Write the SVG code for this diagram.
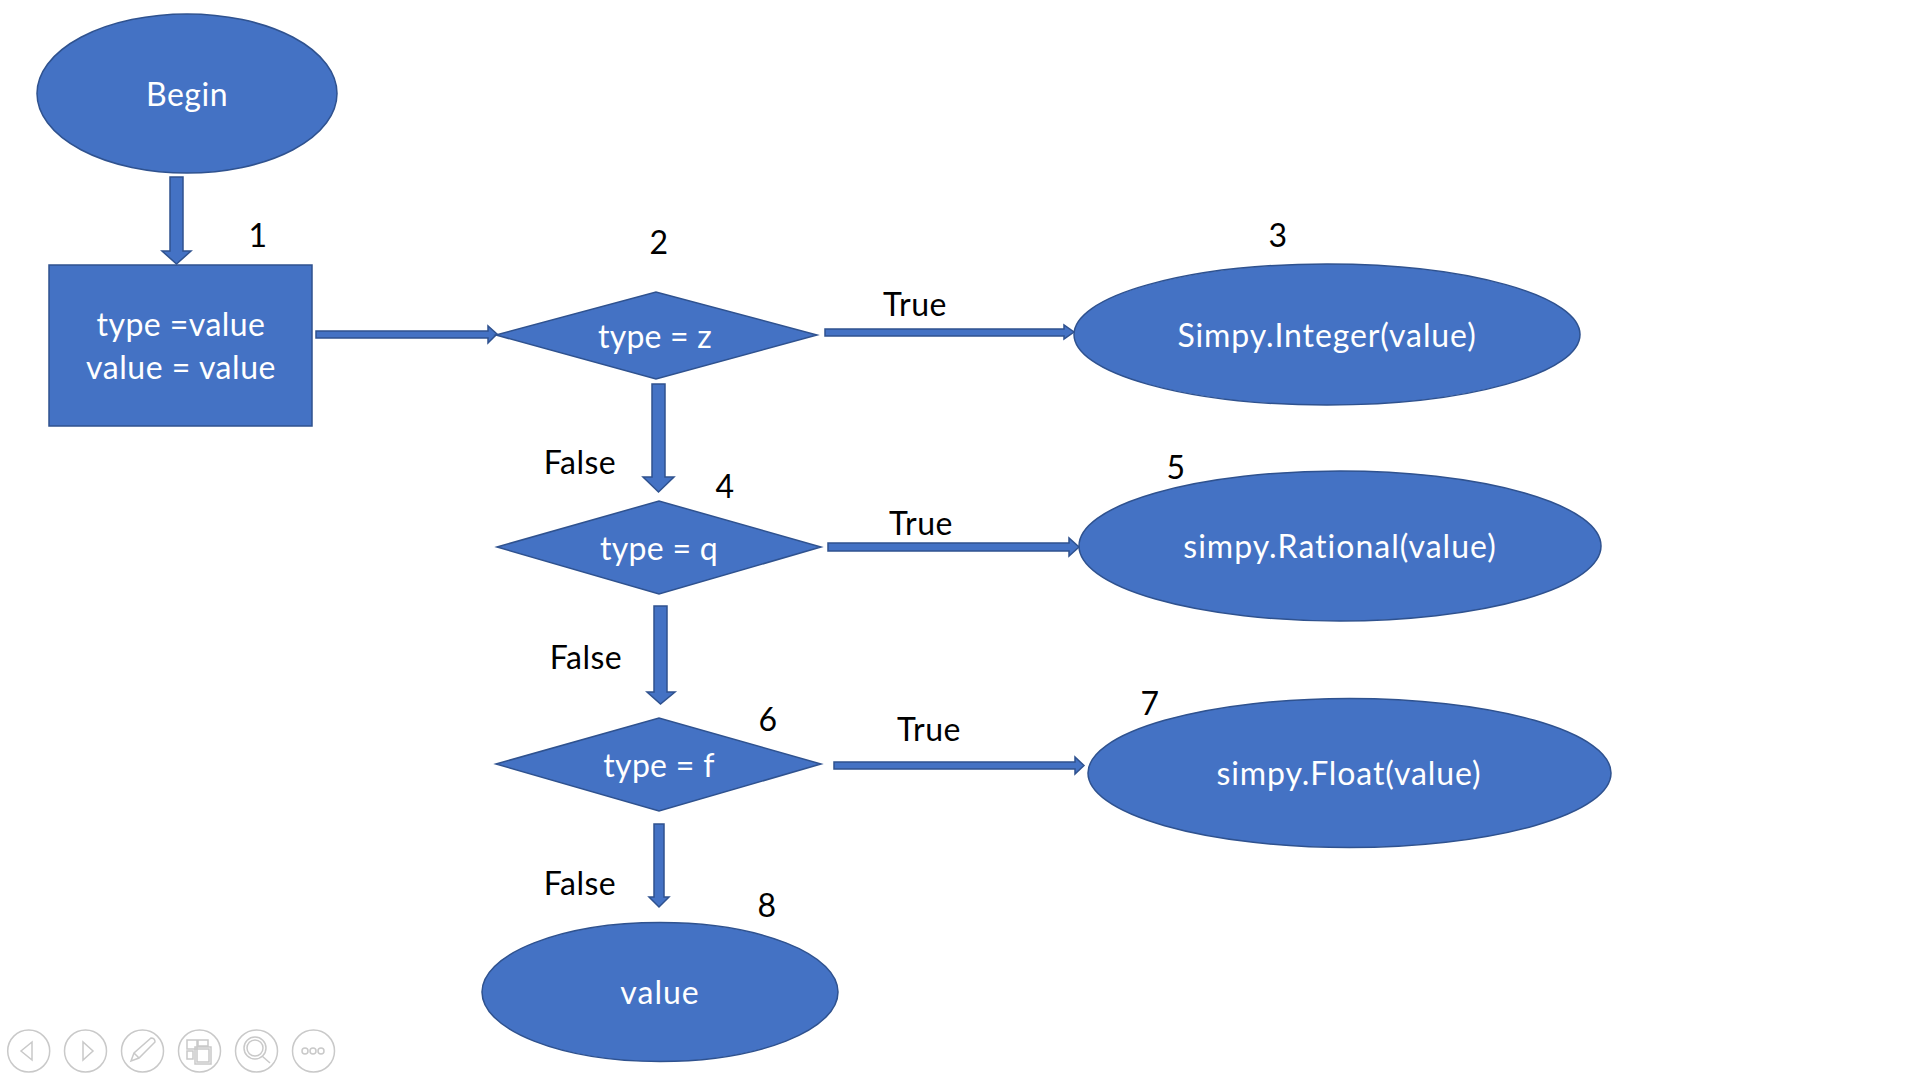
<svg xmlns="http://www.w3.org/2000/svg" width="1920" height="1080" viewBox="0 0 1920 1080">
<style>
.n{fill:#4472C4;stroke:#2F528F;stroke-width:1.5}
.a{fill:#4472C4;stroke:#2F528F;stroke-width:1.5}
text{font-family:Lato,Carlito,"Open Sans",sans-serif;font-size:32px;text-anchor:middle;font-variant-ligatures:none}
.w{fill:#fff}
.k{fill:#000;letter-spacing:.5px}
.i{fill:none;stroke:#c9c9c9;stroke-width:1.5}
</style>
<rect width="1920" height="1080" fill="#fff"/>
<g id="connectors">
<polygon class="a" points="170,177 183,177 183,251 191,251 176.500,264 162,251 170,251"/>
<polygon class="a" points="316,331 488,331 488,326 497,334 488,343 488,338 316,338"/>
<polygon class="a" points="825,329 1064,329 1064,325 1074,332 1064,339 1064,336 825,336"/>
<polygon class="a" points="652,384 665,384 665,477 674,477 658.500,492 643,477 652,477"/>
<polygon class="a" points="828,543 1069,543 1069,538 1079,547 1069,556 1069,551 828,551"/>
<polygon class="a" points="654,606 667,606 667,692 675,692 660.500,704 647,692 654,692"/>
<polygon class="a" points="834,762 1075,762 1075,757 1084,765.500 1075,774 1075,769 834,769"/>
<polygon class="a" points="654,824 664,824 664,897 669,897 659,907 649,897 654,897"/>
</g>
<g id="begin"><ellipse class="n" cx="187" cy="93.500" rx="150" ry="79.500"/><text class="w" x="187" y="106" style="letter-spacing:.5px">Begin</text></g>
<g id="n1"><rect class="n" x="49" y="265" width="263" height="161"/><text class="w" x="181" y="336" style="letter-spacing:.45px">type =value</text><text class="w" x="181" y="379" style="letter-spacing:.55px">value = value</text></g>
<g id="n2"><polygon class="n" points="496,335 656,292 817,335 656,379"/><text class="w" x="655" y="348" style="letter-spacing:.2px">type = z</text></g>
<g id="n3"><ellipse class="n" cx="1327" cy="334.500" rx="253" ry="70.500"/><text class="w" x="1327" y="347" style="letter-spacing:.9px">Simpy.Integer(value)</text></g>
<g id="n4"><polygon class="n" points="497,547 659,501 821,547 659,594"/><text class="w" x="659" y="560" style="letter-spacing:.3px">type = q</text></g>
<g id="n5"><ellipse class="n" cx="1340" cy="546" rx="261" ry="75"/><text class="w" x="1340" y="558" style="letter-spacing:1px">simpy.Rational(value)</text></g>
<g id="n6"><polygon class="n" points="496,764 659,718 821,764 659,811"/><text class="w" x="659" y="777" style="letter-spacing:.3px">type = f</text></g>
<g id="n7"><ellipse class="n" cx="1349.500" cy="773" rx="261.500" ry="74.500"/><text class="w" x="1349" y="785" style="letter-spacing:.9px">simpy.Float(value)</text></g>
<g id="n8"><ellipse class="n" cx="660" cy="992" rx="178" ry="69.500"/><text class="w" x="660" y="1004" style="letter-spacing:1px">value</text></g>
<g id="labels">
<text class="k" x="258" y="247">1</text>
<text class="k" x="659" y="254">2</text>
<text class="k" x="1278" y="247">3</text>
<text class="k" x="725" y="498">4</text>
<text class="k" x="1176" y="479">5</text>
<text class="k" x="768" y="731">6</text>
<text class="k" x="1150" y="715">7</text>
<text class="k" x="767" y="917">8</text>
<text class="k" x="915" y="316">True</text>
<text class="k" x="921" y="535">True</text>
<text class="k" x="929" y="741">True</text>
<text class="k" x="580" y="474">False</text>
<text class="k" x="586" y="669">False</text>
<text class="k" x="580" y="895">False</text>
</g>
<g id="toolbar">
<circle class="i" cx="28.700" cy="1051" r="21"/><polygon class="i" points="32,1042 32,1060 21,1051"/>
<circle class="i" cx="85.500" cy="1051" r="21"/><polygon class="i" points="83,1042 83,1060 93,1051"/>
<circle class="i" cx="142.500" cy="1051" r="21"/><path class="i" d="M131,1061 L134,1053 L151,1038 Q155,1038 155,1042 L139,1058 Z M134,1053 L139,1058"/>
<circle class="i" cx="199.500" cy="1051" r="21"/><path class="i" d="M187,1040 h10 v9 h-10 z M198,1040 h10 v6 h-10 z M187,1051 h6 v8 h-6 z M195,1047 h16 v17 h-16 z M197,1049 h12 v13 h-12 z"/>
<circle class="i" cx="256.500" cy="1051" r="21"/><circle class="i" cx="255" cy="1048" r="11"/><circle class="i" cx="255" cy="1048" r="8"/><path class="i" d="M262,1056 L270,1063"/>
<circle class="i" cx="313.500" cy="1051" r="21"/><circle class="i" cx="305" cy="1051" r="3"/><circle class="i" cx="313" cy="1051" r="3"/><circle class="i" cx="321" cy="1051" r="3"/>
</g>
</svg>
